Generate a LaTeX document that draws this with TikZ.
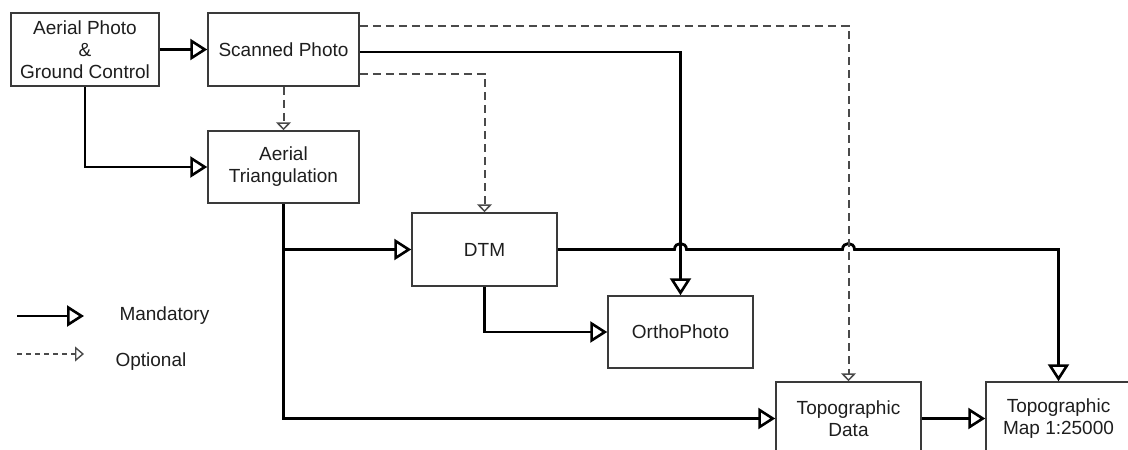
\documentclass[tikz,border=0pt]{standalone}
\usepackage{fontspec}
\setmainfont{Liberation Sans}
\usetikzlibrary{arrows.meta,calc}
\definecolor{boxline}{HTML}{3A3A3A}
\definecolor{dashcol}{HTML}{4A4A4A}
\definecolor{txt}{HTML}{1E1E1E}
\begin{document}
\begin{tikzpicture}[x=1pt,y=-1pt,
  box/.style={draw=boxline,line width=1.5pt,fill=white,rectangle,inner sep=0pt,
    align=center,text=txt,font=\fontsize{19}{22}\selectfont},
  solidarrow/.style={line width=2.8pt,black,-{Triangle[open,length=17pt,width=21pt,line width=2.6pt]}},
  optarrow/.style={line width=2pt,dashcol,dash pattern=on 8pt off 5pt,
    -{Triangle[open,length=8pt,width=15pt,line width=1.5pt]}},
  legtext/.style={anchor=west,text=txt,font=\fontsize{19}{22}\selectfont}]
\useasboundingbox (0,0) rectangle (1128,450);
\clip (0,0) rectangle (1128,450);
\fill[white] (0,0) rectangle (1128,450);

% boxes
\node[box,minimum width=148pt,minimum height=73pt] (B1) at (85,49.5) {Aerial Photo\\\&\\Ground Control};
\node[box,minimum width=151pt,minimum height=73pt] (SP) at (283.5,49.5) {Scanned Photo};
\node[box,minimum width=151pt,minimum height=72pt] (AT) at (283.5,167) {Aerial\\Triangulation};
\node[box,minimum width=145pt,minimum height=73pt] (DTM) at (484.5,249.5) {DTM};
\node[box,minimum width=145pt,minimum height=72pt] (OP) at (680.5,332) {OrthoPhoto};
\node[box,minimum width=145pt,minimum height=73pt] (TD) at (848.5,418.5) {Topographic\\Data};
\node[box,minimum width=145pt,minimum height=73pt] (TM) at (1058.5,418.5) {Topographic\\Map 1:25000};

% mandatory connectors
\draw[solidarrow] (B1.east) -- (SP.west);
\draw[solidarrow] (B1.south) |- (AT.west);
\draw[solidarrow] ([yshift=-2.5pt]SP.east) -| (OP.north);
\draw[solidarrow] (AT.south) |- (TD.west);
\draw[solidarrow] (AT.south |- DTM.west) -- (DTM.west);
\draw[solidarrow] (DTM.south) |- (OP.west);
\draw[solidarrow] (TD.east) -- (TM.west);

% DTM to map with hops
\coordinate (h1) at (OP.north |- DTM.east);
\coordinate (h2) at (TD.north |- DTM.east);
\coordinate (c1) at (TM.north |- DTM.east);
\draw[solidarrow] (DTM.east) -- ($(h1)+(-6,0)$) .. controls ($(h1)+(-6,-8)$) and ($(h1)+(6,-8)$) .. ($(h1)+(6,0)$)
  -- ($(h2)+(-6,0)$) .. controls ($(h2)+(-6,-8)$) and ($(h2)+(6,-8)$) .. ($(h2)+(6,0)$)
  -- (c1) -- (TM.north);

% optional connectors
\draw[optarrow] (SP.south) -- (AT.north);
\draw[optarrow] ([yshift=23.5pt]SP.east) -| (TD.north);
\draw[optarrow] ([yshift=-24.5pt]SP.east) -| (DTM.north);

% legend
\coordinate (l1a) at (17,316);
\coordinate (l1b) at (84,316);
\coordinate (l2a) at (17,354);
\coordinate (l2b) at (84,354);
\draw[solidarrow] (l1a) -- (l1b);
\draw[line width=1.5pt,dashcol,dash pattern=on 5pt off 4pt,
  -{Triangle[open,length=9pt,width=15pt,line width=1.4pt]}] (l2a) -- (l2b);
\node[legtext] (lm) at (116,316) {Mandatory};
\node[legtext] (lo) at (112,362) {Optional};
\end{tikzpicture}
\end{document}
